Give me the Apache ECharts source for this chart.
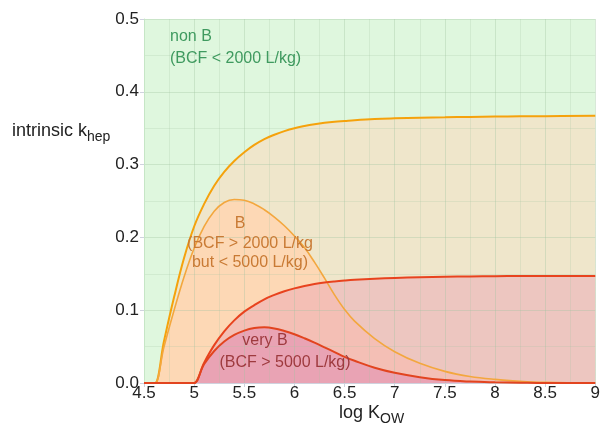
<!DOCTYPE html>
<html>
<head>
<meta charset="utf-8">
<script src="https://cdn.jsdelivr.net/npm/echarts@6/dist/echarts.min.js"></script>
<style>
  html, body { margin: 0; padding: 0; background: #fff; }
  #chart { width: 603px; height: 430px; }
</style>
</head>
<body>
<div id="chart"></div>
<script>
// log Kow grid for the orange (B) curves
const orangeKow = [4.5, 4.59, 4.61, 4.7, 4.8, 4.9, 5.0, 5.1, 5.2, 5.3, 5.4, 5.5, 5.6, 5.7, 5.8, 5.9,
  6.0, 6.1, 6.2, 6.3, 6.4, 6.5, 6.6, 6.8, 7.0, 7.25, 7.5, 7.75, 8.0, 8.25, 8.5, 9.0];
// upper limit of B region (BCF = 2000 L/kg)
const kB2000 = [0, 0, 0, 0.058, 0.118, 0.172, 0.215, 0.246, 0.271, 0.29, 0.305, 0.317, 0.327, 0.335, 0.341, 0.346,
  0.35, 0.353, 0.3555, 0.3575, 0.359, 0.36, 0.361, 0.3625, 0.3635, 0.3645, 0.365, 0.3655, 0.366, 0.3663, 0.3665, 0.367];
// B band (between 2000 and 5000 L/kg)
const kBband = [0, 0, 0, 0.05, 0.1, 0.146, 0.185, 0.215, 0.236, 0.248, 0.252, 0.251, 0.246, 0.238, 0.228, 0.216,
  0.202, 0.186, 0.166, 0.144, 0.121, 0.101, 0.085, 0.061, 0.043, 0.027, 0.016, 0.009, 0.005, 0.0025, 0.001, 0];

// log Kow grid for the red (very B) curves
const redKow = [4.5, 4.99, 5.0, 5.1, 5.2, 5.3, 5.4, 5.5, 5.6, 5.7, 5.8, 5.9, 6.0, 6.1, 6.2, 6.3, 6.4, 6.5, 6.6, 6.8,
  7.0, 7.25, 7.5, 7.75, 8.0, 8.25, 8.5, 9.0];
// upper limit of very B region (BCF = 5000 L/kg)
const kB5000 = [0, 0, 0, 0.028, 0.052, 0.071, 0.086, 0.098, 0.107, 0.115, 0.121, 0.126, 0.13, 0.1333, 0.136, 0.138, 0.1395,
  0.1407, 0.1417, 0.1432, 0.1443, 0.1452, 0.1459, 0.1464, 0.1467, 0.1469, 0.147, 0.147];
// very B band
const kVBband = [0, 0, 0, 0.026, 0.044, 0.057, 0.066, 0.072, 0.0755, 0.0765, 0.075, 0.0715, 0.067, 0.0615, 0.0555, 0.049, 0.0425,
  0.036, 0.0305, 0.021, 0.014, 0.008, 0.004, 0.002, 0.001, 0.0004, 0, 0];

const xTicks = { min: 4.5, max: 9, interval: 0.5 };
const yTicks = { min: 0, max: 0.5, interval: 0.1 };

function pairs(xs, ys) {
  return xs.map((x, i) => [x, ys[i]]);
}

const chart = echarts.init(document.getElementById('chart'));

function areaSeries(xs, ys, fill) {
  return {
    type: 'line',
    data: pairs(xs, ys),
    smooth: 0.4,
    symbol: 'none',
    z: 1,
    silent: true,
    lineStyle: { width: 0 },
    areaStyle: { color: fill, opacity: 1 },
  };
}

function lineSeries(xs, ys, color, width) {
  return {
    type: 'line',
    data: pairs(xs, ys),
    smooth: 0.4,
    symbol: 'none',
    z: 3,
    silent: true,
    lineStyle: { color: color, width: width },
  };
}

const font = 'Liberation Sans';
const labelFont = '16px "Liberation Sans"';

const option = {
  animation: false,
  textStyle: { fontFamily: font },
  grid: {
    left: 144, right: 5, top: 19, bottom: 47,
    show: true,
    backgroundColor: '#dff7de',
    borderWidth: 0,
  },
  xAxis: {
    type: 'value',
    min: xTicks.min, max: xTicks.max, interval: xTicks.interval,
    z: 2,
    axisLine: { show: true, onZero: false, lineStyle: { color: '#cfd2de', width: 1 } },
    axisTick: { show: true, length: 4, lineStyle: { color: '#cfd2de' } },
    axisLabel: { color: '#222', fontSize: 17, margin: 2, fontFamily: font },
    splitLine: { show: true, lineStyle: { color: 'rgba(160,195,160,0.35)', width: 1 } },
    minorTick: { show: false, splitNumber: 2 },
    minorSplitLine: { show: true, lineStyle: { color: 'rgba(160,195,160,0.22)', width: 1 } },
  },
  yAxis: {
    type: 'value',
    min: yTicks.min, max: yTicks.max, interval: yTicks.interval,
    z: 2,
    axisLine: { show: true, lineStyle: { color: '#c6e6c6', width: 1 } },
    axisTick: { show: true, length: 4, lineStyle: { color: '#cfd2de' } },
    axisLabel: {
      color: '#222', fontSize: 17, margin: 5, fontFamily: font,
      formatter: (v) => v.toFixed(1),
    },
    splitLine: { show: true, lineStyle: { color: 'rgba(160,195,160,0.35)', width: 1 } },
    minorTick: { show: false, splitNumber: 2 },
    minorSplitLine: { show: true, lineStyle: { color: 'rgba(160,195,160,0.22)', width: 1 } },
  },
  series: [
    areaSeries(orangeKow, kB2000, '#efe6cb'),
    areaSeries(orangeKow, kBband, '#fdd8b5'),
    areaSeries(redKow, kB5000, 'rgba(236,165,182,0.5)'),
    areaSeries(redKow, kVBband, '#e9a3b4'),
    lineSeries(orangeKow, kB2000, '#f5a20c', 2),
    lineSeries(orangeKow, kBband, '#f3a73e', 1.6),
    lineSeries(redKow, kB5000, '#e8431e', 2),
    lineSeries(redKow, kVBband, '#e2441f', 2),
  ],
  graphic: [
    {
      type: 'text', left: 12, top: 122, z: 10,
      style: {
        text: '{a|intrinsic k}{b|hep}',
        rich: {
          a: { fontSize: 18, fontFamily: font, fill: '#222', lineHeight: 26 },
          b: { fontSize: 14, fontFamily: font, fill: '#222', lineHeight: 16, verticalAlign: 'bottom' },
        },
      },
    },
    {
      type: 'text', left: 339, top: 404, z: 10,
      style: {
        text: '{a|log K}{b|OW}',
        rich: {
          a: { fontSize: 18, fontFamily: font, fill: '#222', lineHeight: 26 },
          b: { fontSize: 14, fontFamily: font, fill: '#222', lineHeight: 16, verticalAlign: 'bottom' },
        },
      },
    },
    {
      type: 'text', left: 170, top: 26, z: 10,
      style: {
        text: 'non B\n(BCF < 2000 L/kg)',
        font: labelFont, fill: '#3f9a5f', lineHeight: 22,
      },
    },
    {
      type: 'text', x: 240, y: 224, z: 10,
      style: { text: 'B', font: labelFont, fill: '#c97a34', align: 'center', verticalAlign: 'middle' },
    },
    {
      type: 'text', x: 250, y: 244, z: 10,
      style: { text: '(BCF > 2000 L/kg', font: labelFont, fill: '#c97a34', align: 'center', verticalAlign: 'middle' },
    },
    {
      type: 'text', x: 250, y: 263, z: 10,
      style: { text: 'but < 5000 L/kg)', font: labelFont, fill: '#c97a34', align: 'center', verticalAlign: 'middle' },
    },
    {
      type: 'text', x: 265, y: 341, z: 10,
      style: { text: 'very B', font: labelFont, fill: '#9e3a3e', align: 'center', verticalAlign: 'middle' },
    },
    {
      type: 'text', x: 285, y: 363, z: 10,
      style: { text: '(BCF > 5000 L/kg)', font: labelFont, fill: '#9e3a3e', align: 'center', verticalAlign: 'middle' },
    },
  ],
};

chart.setOption(option);
</script>
</body>
</html>
